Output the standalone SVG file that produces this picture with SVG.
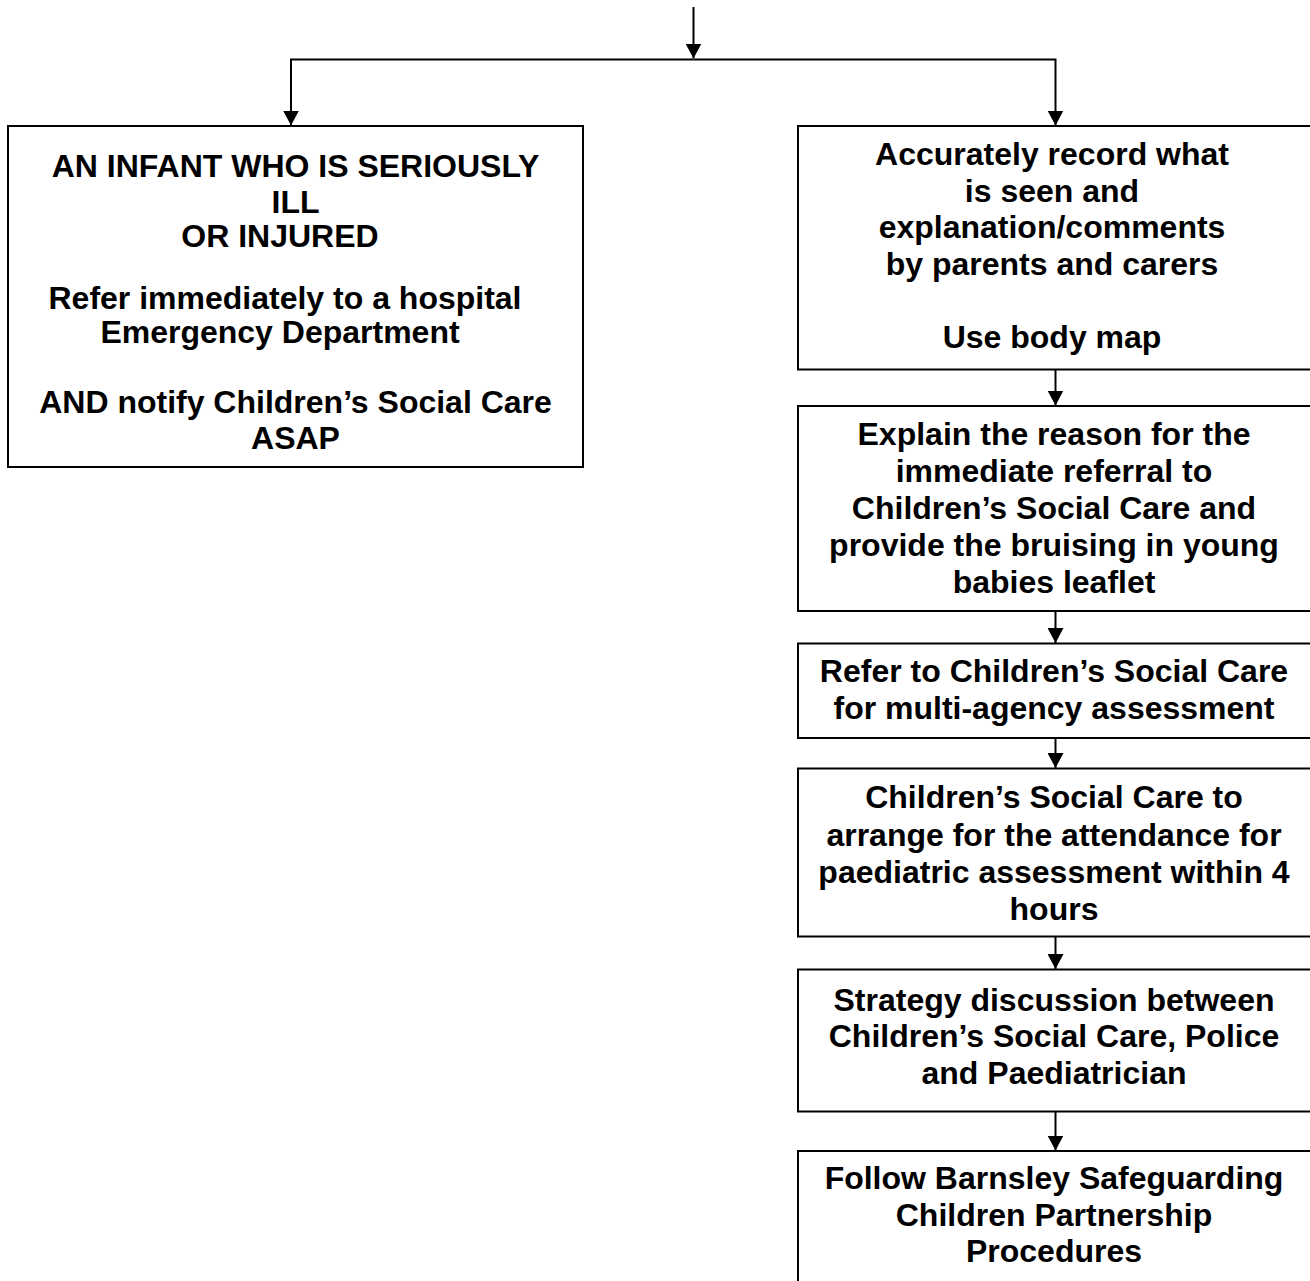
<svg xmlns="http://www.w3.org/2000/svg" width="1310" height="1281" viewBox="0 0 1310 1281">
<style>
.box{fill:#fff;stroke:#000;stroke-width:2}
.c{fill:none;stroke:#000;stroke-width:2}
text{font-family:"Liberation Sans",Arial,sans-serif;font-weight:bold;font-size:32px;fill:#000;text-anchor:middle}
</style>
<defs>
<marker id="ah" viewBox="0 0 15 16" refX="15" refY="8" markerWidth="15" markerHeight="16" markerUnits="userSpaceOnUse" orient="auto">
<path d="M0,0 L15,8 L0,16 z" fill="#000"/>
</marker>
</defs>
<rect width="1310" height="1281" fill="#fff"/>
<g id="connectors">
<path class="c" d="M693.5,7 V58.5" marker-end="url(#ah)"/>
<path class="c" d="M693.5,59.5 H291 V125.5" marker-end="url(#ah)"/>
<path class="c" d="M693.5,59.5 H1055.5 V125.5" marker-end="url(#ah)"/>
<path class="c" d="M1055.5,369.5 V405.5" marker-end="url(#ah)"/>
<path class="c" d="M1055.5,611 V643" marker-end="url(#ah)"/>
<path class="c" d="M1055.5,738 V768" marker-end="url(#ah)"/>
<path class="c" d="M1055.5,936.5 V969" marker-end="url(#ah)"/>
<path class="c" d="M1055.5,1111.5 V1150.5" marker-end="url(#ah)"/>
</g>
<g id="left-box">
<rect class="box" x="8" y="126" width="575" height="341"/>
<text x="295.5" y="177">AN INFANT WHO IS SERIOUSLY</text>
<text x="295.5" y="213">ILL</text>
<text x="280" y="247">OR INJURED</text>
<text x="285" y="309">Refer immediately to a hospital</text>
<text x="280" y="343">Emergency Department</text>
<text x="295.5" y="413">AND notify Children’s Social Care</text>
<text x="295.5" y="449">ASAP</text>
</g>
<g id="record">
<rect class="box" x="798" y="126" width="530" height="243.5"/>
<text x="1052" y="165">Accurately record what</text>
<text x="1052" y="201.5">is seen and</text>
<text x="1052" y="238">explanation/comments</text>
<text x="1052" y="274.5">by parents and carers</text>
<text x="1052" y="347.5">Use body map</text>
</g>
<g id="explain">
<rect class="box" x="798" y="406" width="530" height="205"/>
<text x="1054" y="445">Explain the reason for the</text>
<text x="1054" y="482">immediate referral to</text>
<text x="1054" y="519">Children’s Social Care and</text>
<text x="1054" y="556">provide the bruising in young</text>
<text x="1054" y="592.5">babies leaflet</text>
</g>
<g id="refer">
<rect class="box" x="798" y="643.5" width="530" height="94.5"/>
<text x="1054" y="682">Refer to Children’s Social Care</text>
<text x="1054" y="718.5">for multi-agency assessment</text>
</g>
<g id="arrange">
<rect class="box" x="798" y="768.5" width="530" height="168"/>
<text x="1054" y="808">Children’s Social Care to</text>
<text x="1054" y="845.5">arrange for the attendance for</text>
<text x="1054" y="883">paediatric assessment within 4</text>
<text x="1054" y="919.5">hours</text>
</g>
<g id="strategy">
<rect class="box" x="798" y="969.5" width="530" height="142"/>
<text x="1054" y="1010.5">Strategy discussion between</text>
<text x="1054" y="1047">Children’s Social Care, Police</text>
<text x="1054" y="1083.5">and Paediatrician</text>
</g>
<g id="procedures">
<rect class="box" x="798" y="1151" width="530" height="160"/>
<text x="1054" y="1188.5">Follow Barnsley Safeguarding</text>
<text x="1054" y="1225.5">Children Partnership</text>
<text x="1054" y="1262">Procedures</text>
</g>
</svg>
